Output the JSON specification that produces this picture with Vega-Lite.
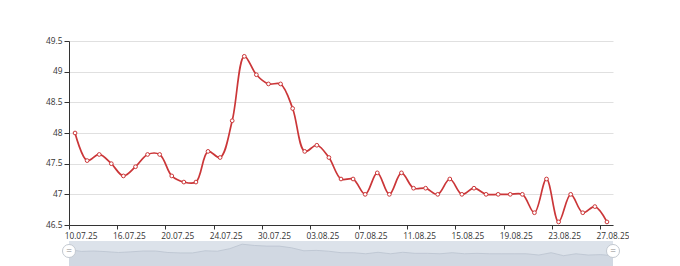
{
  "$schema": "https://vega.github.io/schema/vega-lite/v6.json",
  "padding": {"left": 45, "top": 36, "right": 0, "bottom": 0},
  "background": "white",
  "bounds": "flush",
  "spacing": 16,
  "config": {"view": {"stroke": null}, "font": "Open Sans"},
  "resolve": {"scale": {"x": "independent", "y": "independent"}},
  "data": {"values": [
    {"date": "10.07.25", "value": 48.0},
    {"date": "11.07.25", "value": 47.55},
    {"date": "14.07.25", "value": 47.65},
    {"date": "15.07.25", "value": 47.5},
    {"date": "16.07.25", "value": 47.3},
    {"date": "17.07.25", "value": 47.45},
    {"date": "18.07.25", "value": 47.65},
    {"date": "19.07.25", "value": 47.65},
    {"date": "20.07.25", "value": 47.3},
    {"date": "21.07.25", "value": 47.2},
    {"date": "22.07.25", "value": 47.2},
    {"date": "23.07.25", "value": 47.7},
    {"date": "24.07.25", "value": 47.6},
    {"date": "25.07.25", "value": 48.2},
    {"date": "28.07.25", "value": 49.25},
    {"date": "29.07.25", "value": 48.95},
    {"date": "30.07.25", "value": 48.8},
    {"date": "31.07.25", "value": 48.8},
    {"date": "01.08.25", "value": 48.4},
    {"date": "02.08.25", "value": 47.7},
    {"date": "03.08.25", "value": 47.8},
    {"date": "04.08.25", "value": 47.6},
    {"date": "05.08.25", "value": 47.25},
    {"date": "06.08.25", "value": 47.25},
    {"date": "07.08.25", "value": 47.0},
    {"date": "08.08.25", "value": 47.35},
    {"date": "09.08.25", "value": 47.0},
    {"date": "10.08.25", "value": 47.35},
    {"date": "11.08.25", "value": 47.1},
    {"date": "12.08.25", "value": 47.1},
    {"date": "13.08.25", "value": 47.0},
    {"date": "14.08.25", "value": 47.25},
    {"date": "15.08.25", "value": 47.0},
    {"date": "16.08.25", "value": 47.1},
    {"date": "17.08.25", "value": 47.0},
    {"date": "18.08.25", "value": 47.0},
    {"date": "19.08.25", "value": 47.0},
    {"date": "20.08.25", "value": 47.0},
    {"date": "21.08.25", "value": 46.7},
    {"date": "22.08.25", "value": 47.25},
    {"date": "23.08.25", "value": 46.55},
    {"date": "24.08.25", "value": 47.0},
    {"date": "25.08.25", "value": 46.7},
    {"date": "26.08.25", "value": 46.8},
    {"date": "27.08.25", "value": 46.55}
  ]},
  "vconcat": [
    {
      "width": 544,
      "height": 184,
      "encoding": {
        "x": {
          "field": "date", "type": "ordinal", "sort": null,
          "scale": {"type": "band", "paddingInner": 0, "paddingOuter": 0},
          "axis": {
            "title": null,
            "values": ["10.07.25", "16.07.25", "20.07.25", "24.07.25", "30.07.25", "03.08.25", "07.08.25", "11.08.25", "15.08.25", "19.08.25", "23.08.25", "27.08.25"],
            "labelAngle": 0, "bandPosition": 0, "labelOffset": 6,
            "tickSize": 4, "tickColor": "#333", "domainColor": "#333",
            "labelColor": "#333", "labelFontSize": 8.3, "labelPadding": 2, "grid": false
          }
        },
        "y": {
          "field": "value", "type": "quantitative",
          "scale": {"domain": [46.5, 49.5], "nice": false, "zero": false},
          "axis": {
            "title": null, "values": [46.5, 47, 47.5, 48, 48.5, 49, 49.5], "format": "~g",
            "grid": true, "gridColor": "#e0e0e0", "domainColor": "#333", "tickColor": "#333",
            "tickSize": 5, "labelPadding": 2, "labelFontSize": 8.3, "labelColor": "#333"
          }
        }
      },
      "layer": [
        {"mark": {"type": "line", "interpolate": "catmull-rom", "color": "#cb3638", "strokeWidth": 1.7}},
        {"mark": {"type": "point", "shape": "circle", "filled": false, "fill": "white", "stroke": "#cb3638", "strokeWidth": 1, "size": 14, "opacity": 1}}
      ]
    },
    {
      "width": 544,
      "height": 20,
      "view": {"fill": "#dce2ea", "stroke": null},
      "layer": [
        {
          "mark": {"type": "area", "color": "#d1d8e2", "opacity": 1, "line": {"color": "#bac3cf", "strokeWidth": 0.8}},
          "encoding": {
            "x": {"field": "date", "type": "ordinal", "sort": null, "scale": {"type": "point", "padding": 0}, "axis": null},
            "y": {"field": "value", "type": "quantitative", "scale": {"domain": [45.3, 50.0], "nice": false, "zero": false}, "axis": null}
          }
        },
        {
          "transform": [{"filter": {"field": "date", "oneOf": ["10.07.25", "27.08.25"]}}],
          "mark": {"type": "circle", "size": 170, "fill": "white", "stroke": "#c3c9d1", "strokeWidth": 1, "opacity": 1},
          "encoding": {"x": {"field": "date", "type": "ordinal", "sort": null}}
        },
        {
          "transform": [{"filter": {"field": "date", "oneOf": ["10.07.25", "27.08.25"]}}],
          "mark": {"type": "text", "text": "=", "fontSize": 10, "color": "#888", "baseline": "middle", "align": "center"},
          "encoding": {"x": {"field": "date", "type": "ordinal", "sort": null}}
        }
      ]
    }
  ]
}
